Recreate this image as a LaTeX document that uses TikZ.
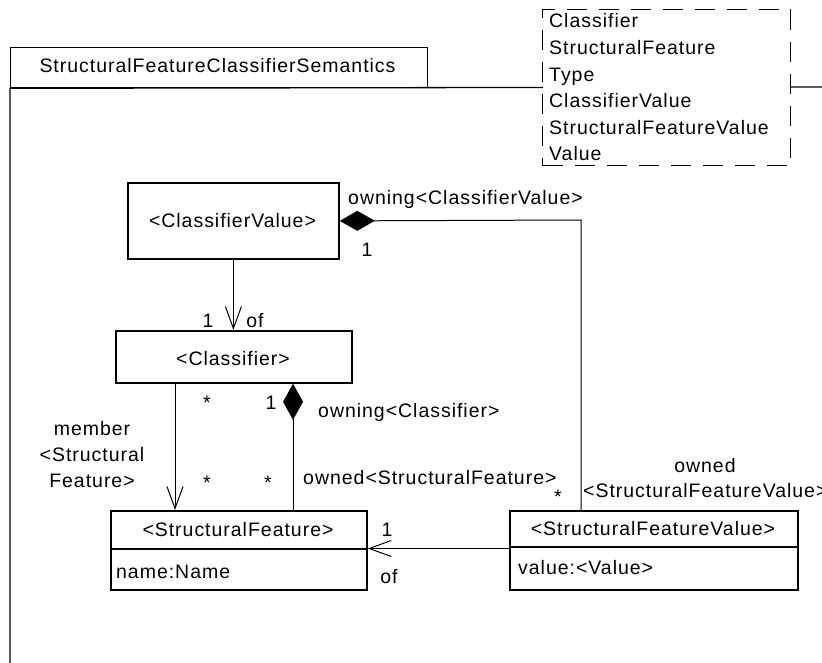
\documentclass[tikz,border=0pt]{standalone}
\usepackage{fontspec}
\setmainfont{Liberation Sans}[LetterSpace=5]
\usetikzlibrary{arrows.meta}
\begin{document}
\begin{tikzpicture}[x=1pt,y=-1pt,
  every node/.style={font=\fontsize{19.5}{26.6}\selectfont},
  box/.style={draw, line width=1.8pt, anchor=north west, inner sep=0pt},
  pkgbox/.style={draw, line width=1.3pt, anchor=north west, inner sep=0pt},
  pkg/.style={line width=1.3pt},
  lbl/.style={inner sep=0pt, anchor=base},
  lbll/.style={inner sep=0pt, anchor=base west},
  conn/.style={line width=1pt},
  openarr/.style={-{Straight Barb[length=22pt,width=16pt]}},
  compo/.style={{Diamond[length=35pt,width=20pt]}-}
]
\useasboundingbox (0,0) rectangle (822,663);
% package
\node[pkgbox, minimum width=417pt, minimum height=40pt] (tab) at (10,47) {};
\node[lbl] (tabtxt) at (217.5,73) {StructuralFeatureClassifierSemantics};
\coordinate (pkbot) at (10,663);
\coordinate (pkright) at (822,87);
\draw[pkg] (pkbot) -- (tab.south west) -- (pkright);
% template parameters
\node[draw, line width=1.3pt, dash pattern=on 20pt off 12pt, fill=white, anchor=north west, inner sep=0pt, minimum width=248pt, minimum height=156pt] (params) at (542,9) {};
\node[lbll] (p1) at (549,28) {Classifier};
\node[lbll] (p2) at (549,54.6) {StructuralFeature};
\node[lbll] (p3) at (549,81.2) {Type};
\node[lbll] (p4) at (549,107.8) {ClassifierValue};
\node[lbll] (p5) at (549,134.4) {StructuralFeatureValue};
\node[lbll] (p6) at (549,161) {Value};
% classes
\node[box, minimum width=211pt, minimum height=76pt] (cv) at (127,182) {};
\node[lbl] (cvt) at (232.5,228) {<ClassifierValue>};
\node[box, minimum width=236pt, minimum height=52pt] (cl) at (115,330) {};
\node[lbl] (clt) at (233,365) {<Classifier>};
\node[box, minimum width=256pt, minimum height=79pt] (sf) at (110,510) {};
\draw[line width=1.6pt] ([yshift=-39pt]sf.north west) -- ([yshift=-39pt]sf.north east);
\node[lbl] (sft) at (238,536) {<StructuralFeature>};
\node[lbll] (sfa) at (116,578) {name:Name};
\node[box, minimum width=288pt, minimum height=79pt] (sfv) at (509,510) {};
\draw[line width=1.6pt] ([yshift=-37pt]sfv.north west) -- ([yshift=-37pt]sfv.north east);
\node[lbl] (sfvt) at (653,535) {<StructuralFeatureValue>};
\node[lbll] (sfva) at (518,574) {value:<Value>};
% connectors
\draw[conn, openarr] (cv.south) -- (cv.south |- cl.north);
\coordinate (bend) at (581,220);
\draw[conn, compo] (cv.east) -- (bend) -- (bend |- sfv.north);
\coordinate (mx) at (175,0);
\draw[conn, openarr] (cl.south -| mx) -- (sf.north -| mx);
\coordinate (dx) at (293,0);
\draw[conn, {Diamond[length=36pt,width=20pt]}-] (cl.south -| dx) -- (sf.north -| dx);
\coordinate (oy) at (0,548.5);
\draw[conn, openarr] (sfv.west |- oy) -- (sf.east |- oy);
% labels
\node[lbll] (l1) at (348,205) {owning<ClassifierValue>};
\node[lbl] (l2) at (367,257) {1};
\node[lbl] (l3) at (208,327) {1};
\node[lbl] (l4) at (255,327) {of};
\node[lbl] (l5) at (207,409) {*};
\node[lbl] (l6) at (271,409) {1};
\node[lbll] (l7) at (318,417) {owning<Classifier>};
\node[lbl] (l8) at (92,435) {member};
\node[lbl] (l9) at (92,461) {<Structural};
\node[lbl] (l10) at (92,487) {Feature>};
\node[lbl] (l11) at (207,489) {*};
\node[lbl] (l12) at (268,489) {*};
\node[lbll] (l13) at (303,484) {owned<StructuralFeature>};
\node[lbl] (l14) at (558,503) {*};
\node[lbl] (l15) at (705,472) {owned};
\node[lbll] (l16) at (583,497) {<StructuralFeatureValue>};
\node[lbl] (l17) at (387,536) {1};
\node[lbl] (l18) at (389,583) {of};
\end{tikzpicture}
\end{document}
